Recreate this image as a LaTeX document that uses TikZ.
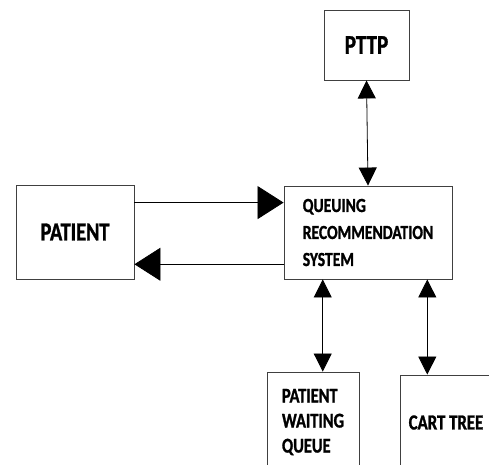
\documentclass[tikz,border=0pt]{standalone}
\usepackage{fontspec}
\newfontfamily\cf{Carlito}[FakeStretch=0.78,FakeBold=1.2]
\usetikzlibrary{arrows.meta,calc}
\begin{document}
\begin{tikzpicture}[x=1pt,y=-1pt,
  box/.style={draw=black!75,line width=0.9pt,rectangle,inner sep=0pt,font=\cf\bfseries},
  link/.style={draw=black,line width=0.8pt},
  bighead/.style={-{Triangle[length=26pt,width=33pt]}},
  vhead/.style={{Triangle[length=18pt,width=18pt]}-{Triangle[length=18pt,width=18pt]}}]
\useasboundingbox (0,0) rectangle (489,464);
\node[box,minimum width=85pt,minimum height=70pt,font=\cf\bfseries\fontsize{27}{30}\selectfont] (pttp) at (366.5,45) {PTTP};
\node[box,minimum width=168pt,minimum height=93pt,align=left,font=\cf\bfseries\fontsize{20}{27}\selectfont] (qrs) at (368,232.5) {QUEUING\\RECOMMENDATION\\SYSTEM};
\node[box,minimum width=118pt,minimum height=94pt,font=\cf\bfseries\fontsize{26}{30}\selectfont] (patient) at (75,232) {PATIENT};
\node[box,minimum width=92pt,minimum height=100pt,align=left,font=\cf\bfseries\fontsize{21}{25}\selectfont] (pwq) at (313,422) {PATIENT\\WAITING\\QUEUE};
\node[box,minimum width=92pt,minimum height=95pt,font=\cf\bfseries\fontsize{21.5}{25}\selectfont] (cart) at (446,422.5) {CART TREE};
% patient <-> qrs
\coordinate (p1) at ($(patient.north east)!0.19!(patient.south east)$);
\coordinate (p2) at ($(patient.north east)!0.84!(patient.south east)$);
\draw[link,bighead] (p1) -- (qrs.west |- p1);
\draw[link,bighead] (qrs.west |- p2) -- (p2);
% pttp <-> qrs
\draw[link,vhead] (pttp.south) -- (qrs.north);
% qrs <-> pwq, cart
\coordinate (q1) at ($(qrs.south west)!0.232!(qrs.south east)$);
\coordinate (q2) at ($(qrs.south west)!0.851!(qrs.south east)$);
\draw[link,vhead] (q1) -- (q1 |- pwq.north);
\draw[link,vhead] (q2) -- (q2 |- cart.north);
\end{tikzpicture}
\end{document}
